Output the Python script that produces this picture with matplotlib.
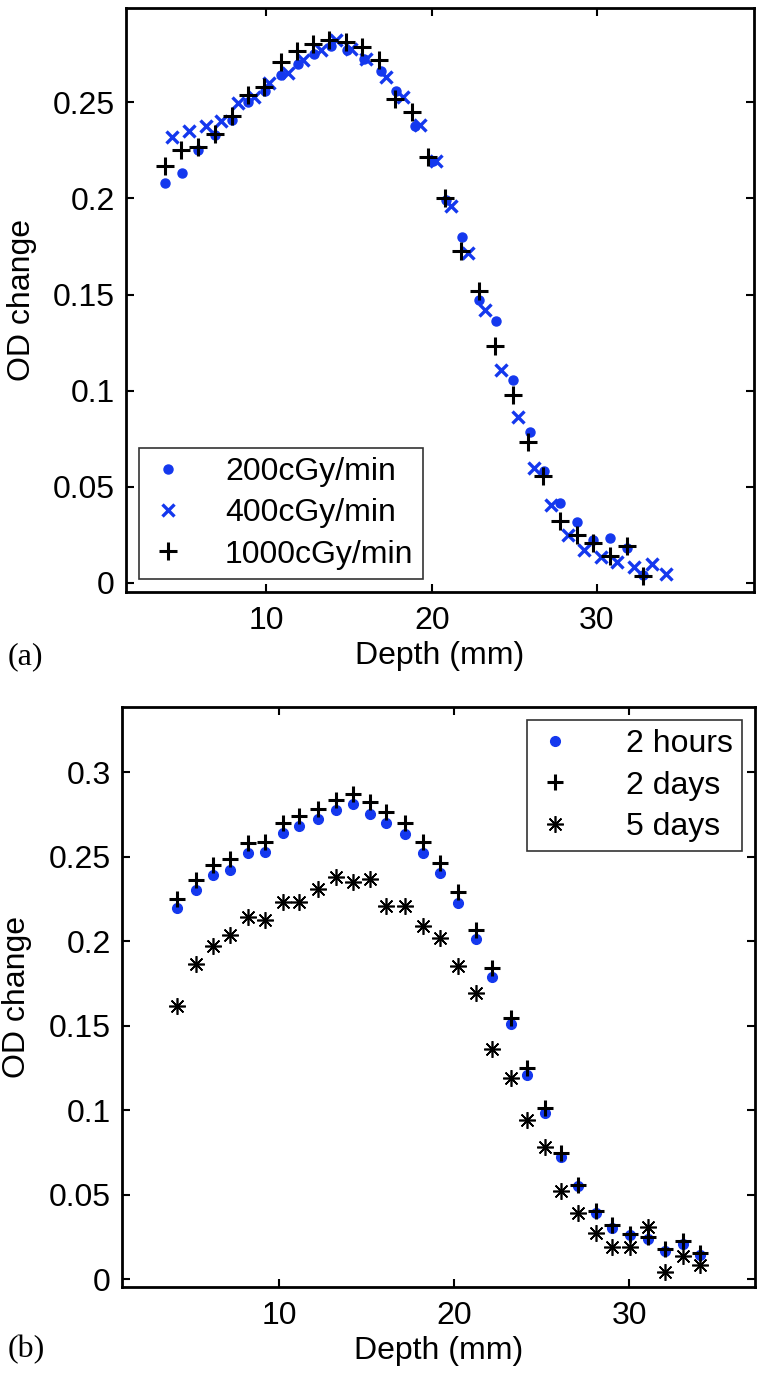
import numpy as np
import matplotlib
matplotlib.use("Agg")
import matplotlib.pyplot as plt

plt.rcParams['font.family'] = ['Liberation Sans', 'DejaVu Sans']

# (a) dose-rate dependence
depth_200 = [3.86, 4.87, 5.88, 6.89, 7.9, 8.9, 9.9, 10.9, 11.9, 12.9, 13.9, 14.9, 15.9, 16.9, 17.86,
             18.97, 20.08, 20.89, 21.86, 22.87, 23.88, 24.93, 25.94, 26.79, 27.76, 28.81, 29.78,
             30.79, 31.8, 32.8]
od_200 = [0.208, 0.213, 0.225, 0.233, 0.241, 0.250, 0.256, 0.264, 0.270, 0.275, 0.279, 0.277, 0.2727,
          0.266, 0.256, 0.2378, 0.2195, 0.1994, 0.1798, 0.1471, 0.1361, 0.1053, 0.0783, 0.0582,
          0.0417, 0.0315, 0.0225, 0.0234, 0.018, 0.004]

depth_400 = [4.28, 5.33, 6.35, 7.25, 8.26, 9.27, 10.18, 11.29, 12.2, 13.3, 14.2, 15.13, 16.04, 17.25,
             18.26, 19.27, 20.28, 21.19, 22.2, 23.2, 24.22, 25.23, 26.18, 27.19, 28.26, 29.21,
             30.22, 31.23, 32.24, 33.32, 34.18]
od_400 = [0.2317, 0.2348, 0.2378, 0.2404, 0.2495, 0.2526, 0.26, 0.2652, 0.2718, 0.277, 0.2826,
          0.2779, 0.2727, 0.2631, 0.2526, 0.2379, 0.2195, 0.196, 0.1716, 0.1419, 0.1109, 0.0861,
          0.06, 0.0408, 0.0251, 0.0173, 0.0134, 0.0111, 0.0085, 0.0099, 0.0047]

depth_1000 = [3.86, 4.83, 5.88, 6.89, 7.9, 8.87, 9.88, 10.9, 11.86, 12.8, 13.78, 14.83, 15.8, 16.8,
              17.76, 18.83, 19.78, 20.79, 21.8, 22.87, 23.82, 24.89, 25.84, 26.75, 27.76, 28.77,
              29.74, 30.79, 31.8, 32.8]
od_1000 = [0.217, 0.225, 0.2265, 0.2334, 0.243, 0.2535, 0.258, 0.271, 0.2767, 0.2805, 0.2826,
           0.2814, 0.2788, 0.2718, 0.2517, 0.2448, 0.2216, 0.2003, 0.1724, 0.1518, 0.1231, 0.098,
           0.0731, 0.0556, 0.0321, 0.0251, 0.0208, 0.0138, 0.019, 0.0037]

# (b) time after irradiation
depth_b = [4.17, 5.23, 6.18, 7.19, 8.18, 9.18, 10.19, 11.15, 12.2, 13.25, 14.2, 15.16, 16.11, 17.16,
           18.21, 19.17, 20.22, 21.27, 22.17, 23.22, 24.14, 25.19, 26.12, 27.07, 28.1, 29.04,
           30.07, 31.08, 32.06, 33.07, 34.08]
od_2h = [0.2193, 0.2302, 0.2391, 0.242, 0.2519, 0.2525, 0.2637, 0.268, 0.272, 0.2775, 0.2811,
         0.2751, 0.27, 0.2633, 0.2523, 0.24, 0.2227, 0.201, 0.1785, 0.1509, 0.1207, 0.0984,
         0.0725, 0.0549, 0.0392, 0.0304, 0.0259, 0.0239, 0.0167, 0.0206, 0.0141]
od_2d = [0.2247, 0.2361, 0.245, 0.2483, 0.2578, 0.2588, 0.2696, 0.274, 0.2781, 0.2834, 0.2868,
         0.2824, 0.2765, 0.2696, 0.2588, 0.246, 0.2292, 0.2065, 0.1838, 0.1543, 0.1247, 0.101,
         0.0745, 0.0559, 0.0402, 0.0318, 0.0265, 0.0251, 0.0176, 0.0225, 0.0157]
od_5d = [0.1615, 0.1864, 0.197, 0.2036, 0.214, 0.2124, 0.2229, 0.2229, 0.2306, 0.2377, 0.2347,
         0.2365, 0.2207, 0.2207, 0.2089, 0.2016, 0.1852, 0.1691, 0.1359, 0.1188, 0.0941, 0.0783,
         0.0524, 0.0392, 0.0275, 0.0192, 0.0192, 0.031, 0.0039, 0.0137, 0.0084]

BLUE = "#1438ee"
FS = 23

fig = plt.figure(figsize=(7.7, 13.84), dpi=100)
W, H = 770, 1384
ax1 = fig.add_axes([126 / W, 1 - 592 / H, 628 / W, 584 / H])
ax2 = fig.add_axes([122 / W, 1 - 1287 / H, 633 / W, 580 / H])


def style(ax):
    ax.tick_params(direction="in", length=6, width=1.5, labelsize=FS,
                   top=True, right=True)
    ax.tick_params(axis="x", pad=10)
    ax.tick_params(axis="y", pad=8)
    for s in ax.spines.values():
        s.set_linewidth(2)
    ax.set_xticks([10, 20, 30])
    ax.set_xlabel("Depth (mm)", fontsize=FS, labelpad=4)
    ax.set_ylabel("OD change", fontsize=FS)
    ax.yaxis.set_label_coords(-0.142, 0.5)


ax1.plot(depth_200, od_200, "o", ls="none", color=BLUE, ms=6.5, mec=BLUE, label="200cGy/min")
ax1.plot(depth_400, od_400, "x", ls="none", color=BLUE, ms=9, mew=2.4, label="400cGy/min")
ax1.plot(depth_1000, od_1000, "+", ls="none", color="black", ms=13, mew=2.2, label="1000cGy/min")
ax1.set_xlim(1.5, 39.5)
ax1.set_ylim(-0.0047, 0.299)
ax1.set_yticks([0, 0.05, 0.1, 0.15, 0.2, 0.25])
ax1.set_yticklabels(["0", "0.05", "0.1", "0.15", "0.2", "0.25"])
style(ax1)
leg1 = ax1.legend(loc="lower left", fontsize=FS, frameon=True, fancybox=False,
                  edgecolor="black", handlelength=1.2, handletextpad=1.2,
                  borderaxespad=0.4, labelspacing=0.35, borderpad=0.3)
leg1.get_frame().set_linewidth(1.2)

ax2.plot(depth_b, od_2h, "o", ls="none", color=BLUE, ms=7, mec=BLUE, label="2 hours")
ax2.plot(depth_b, od_2d, "+", ls="none", color="black", ms=12, mew=2.2, label="2 days")
ax2.plot(depth_b, od_5d, marker=(8, 2, 0), ls="none", color="black", ms=12, mew=1.2,
         label="5 days")
ax2.set_xlim(1.0, 37.2)
ax2.set_ylim(-0.0047, 0.3385)
ax2.set_yticks([0, 0.05, 0.1, 0.15, 0.2, 0.25, 0.3])
ax2.set_yticklabels(["0", "0.05", "0.1", "0.15", "0.2", "0.25", "0.3"])
style(ax2)
leg2 = ax2.legend(loc="upper right", fontsize=FS, frameon=True, fancybox=False,
                  edgecolor="black", handlelength=1.2, handletextpad=1.6,
                  borderaxespad=0.4, labelspacing=0.35, borderpad=0.3)
leg2.get_frame().set_linewidth(1.2)

fig.text(8 / W, 1 - 657 / H, "(a)", fontsize=FS, family="Liberation Serif", va="center")
fig.text(8 / W, 1 - 1350 / H, "(b)", fontsize=FS, family="Liberation Serif", va="center")

fig.savefig("out.png", dpi=100)
